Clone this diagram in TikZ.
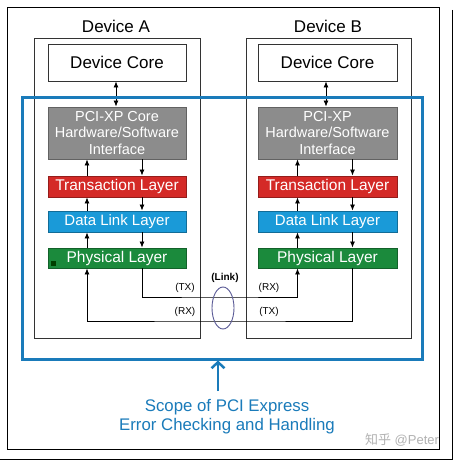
\documentclass[tikz,border=0pt]{standalone}
\usepackage{fontspec}
\setmainfont{Liberation Sans}
\newfontfamily\cjkfont{Noto Sans CJK SC}
\usetikzlibrary{arrows.meta,shapes.geometric}
\definecolor{pgray}{HTML}{8C8C8C}
\definecolor{pred}{HTML}{D42A27}
\definecolor{pblue}{HTML}{1A9AD8}
\definecolor{pgreen}{HTML}{1B8A3C}
\definecolor{scopeblue}{HTML}{1A7BBA}
\definecolor{linkc}{HTML}{5A5A96}
\tikzset{
  devbox/.style={draw=black!80, line width=0.9pt, minimum width=#1, minimum height=300, inner sep=0pt},
  corebox/.style={draw=black!80, line width=0.9pt, fill=white, minimum width=#1, minimum height=37, inner sep=0pt, font=\fontsize{17}{20}\selectfont},
  layer/.style={draw=#1!70!black, line width=0.9pt, fill=#1, text=white, minimum width=138, inner sep=0pt, font=\fontsize{15.5}{18}\selectfont},
  devlabel/.style={font=\fontsize{17}{20}\selectfont},
  arr/.style={line width=0.8pt, -{Latex[length=6pt,width=5pt]}},
  darr/.style={line width=0.8pt, {Latex[length=6pt,width=5pt]}-{Latex[length=6pt,width=5pt]}},
  small/.style={font=\fontsize{10}{12}\selectfont},
}
\begin{document}
\begin{tikzpicture}[x=1pt,y=-1pt]
\useasboundingbox (0,0) rectangle (454,460);
\fill[white] (0,0) rectangle (454,460);
% outer frame
\draw[line width=1pt] (7,8) rectangle (439,449);
\draw[line width=1pt] (452,10) -- (452,459) -- (0,459);

% devices
\node[devbox=166] (devA) at (117,188) {};
\node[devbox=165] (devB) at (328.5,188) {};
\node[devlabel] (labA) at (116,26) {Device A};
\node[devlabel] (labB) at (328,26) {Device B};

\node[corebox=138] (coreA) at (117,62.5) {Device Core};
\node[corebox=139] (coreB) at (327.5,62.5) {Device Core};

\node[layer=pgray, minimum height=52, align=center, font=\fontsize{14.5}{16.5}\selectfont] (pciA) at (117,133) {PCI-XP Core\\Hardware/Software\\Interface};
\node[layer=pgray, minimum width=139, minimum height=52, align=center, font=\fontsize{14.5}{16.5}\selectfont] (pciB) at (327.5,133) {PCI-XP\\Hardware/Software\\Interface};

\node[layer=pred, minimum height=21] (trA) at (117,186.5) {Transaction Layer};
\node[layer=pred, minimum width=139, minimum height=21] (trB) at (327.5,186.5) {Transaction Layer};

\node[layer=pblue, minimum height=21, font=\fontsize{15}{18}\selectfont] (dlA) at (117,221.5) {Data Link Layer};
\node[layer=pblue, minimum width=139, minimum height=21, font=\fontsize{15}{18}\selectfont] (dlB) at (327.5,221.5) {Data Link Layer};

\node[layer=pgreen, minimum height=20] (phA) at (117,258) {Physical Layer};
\node[layer=pgreen, minimum width=139, minimum height=20] (phB) at (327.5,258) {Physical Layer};
\fill[black!75!green] (51,261) rectangle (56,266);

% vertical arrows
\draw[darr] (coreA.south -| 116,0) -- (pciA.north -| 116,0);
\draw[darr] (coreB.south -| 326,0) -- (pciB.north -| 326,0);
\foreach \d in {A,B}{
  \draw[arr] ([xshift=-30]tr\d.north) -- ([xshift=-30]pci\d.south);
  \draw[arr] ([xshift=25]pci\d.south) -- ([xshift=25]tr\d.north);
  \draw[arr] ([xshift=-30]dl\d.north) -- ([xshift=-30]tr\d.south);
  \draw[arr] ([xshift=25]tr\d.south) -- ([xshift=25]dl\d.north);
  \draw[arr] ([xshift=-30]ph\d.north) -- ([xshift=-30]dl\d.south);
  \draw[arr] ([xshift=25]dl\d.south) -- ([xshift=25]ph\d.north);
}

% link lines
\coordinate (txline) at (220,297);
\coordinate (rxline) at (220,321);
\draw[arr] ([xshift=25]phA.south) |- (txline) -| ([xshift=-30]phB.south);
\draw[arr] ([xshift=24.5]phB.south) |- (rxline) -| ([xshift=-30]phA.south);

\node[small] (txA) at (185,288) {(TX)};
\node[small] (rxA) at (185,312) {(RX)};
\node[small] (rxB) at (269,288) {(RX)};
\node[small] (txB) at (269,312) {(TX)};
\node[small, font=\fontsize{10}{12}\selectfont\bfseries] (link) at (225,278) {(Link)};
\node[draw=linkc, line width=0.9pt, ellipse, minimum width=22, minimum height=42, inner sep=0pt] (linkell) at (223,308) {};

% scope
\node[draw=scopeblue, line width=3pt, minimum width=400, minimum height=262, inner sep=0pt] (scope) at (222,228) {};
\node[text=scopeblue, align=center, font=\fontsize{16.8}{19.5}\selectfont] (scopetxt) at (227,416.5) {Scope of PCI Express\\Error Checking and Handling};
\coordinate (sarr) at (218,391);
\draw[scopeblue, line width=2.5pt, -{Straight Barb[length=6pt,width=13pt]}] (sarr) -- (sarr |- scope.south);

% watermark
\node[text=black!30, font=\fontsize{13}{15}\selectfont] (wm) at (402,440) {{\cjkfont 知乎} @Peter};
\end{tikzpicture}
\end{document}
